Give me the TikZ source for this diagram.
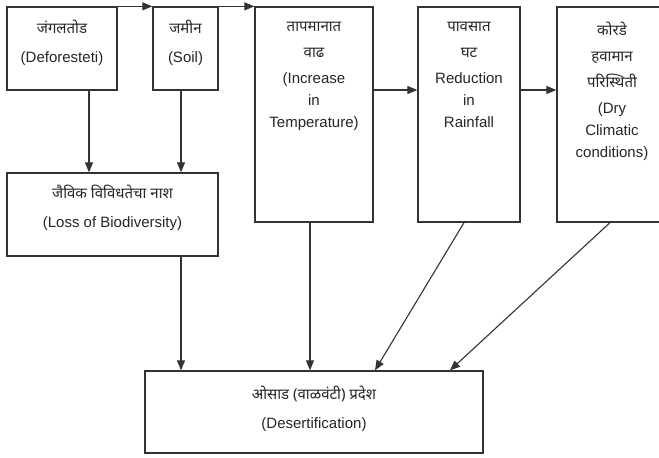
\documentclass[tikz,border=0pt]{standalone}
\usepackage{fontspec}
\setmainfont{Liberation Sans}
\newfontfamily\dev[Script=Devanagari]{Noto Sans}
\usetikzlibrary{arrows.meta}
\tikzset{
  box/.style={draw=black!80, line width=1.3pt, rectangle, inner sep=0pt},
  lbl/.style={anchor=north, align=center, inner sep=0pt, text=black!85,
    font=\fontsize{15}{22}\selectfont},
  lblw/.style={lbl, font=\fontsize{15}{29}\selectfont},
  arr/.style={draw=black!80, line width=1.1pt, -{Triangle[length=10pt,width=8pt]}}
}
\begin{document}
\begin{tikzpicture}[x=1pt,y=-1pt]
\useasboundingbox (0,0) rectangle (659,458);
\clip (0,0) rectangle (659,458);
\fill[white] (0,0) rectangle (659,458);
% boxes
\node[box, minimum width=110pt, minimum height=83pt] (b1) at (62,48.5) {};
\node[box, minimum width=65pt, minimum height=83pt] (b2) at (185.5,48.5) {};
\node[box, minimum width=118pt, minimum height=215pt] (b3) at (314,114.5) {};
\node[box, minimum width=102pt, minimum height=215pt] (b4) at (469,114.5) {};
\node[box, minimum width=110pt, minimum height=215pt] (b5) at (612,114.5) {};
\node[box, minimum width=211pt, minimum height=83pt] (loss) at (112.5,214.5) {};
\node[box, minimum width=338pt, minimum height=82pt] (des) at (314,412) {};
% texts
\node[lblw] (t1) at (62,20) {{\dev जंगलतोड}\\(Deforesteti)};
\node[lblw] (t2) at (185.5,20) {{\dev जमीन}\\(Soil)};
\node[lbl] (t3) at (314,22) {{\dev तापमानात}\\[4pt]{\dev वाढ}\\[4pt](Increase\\in\\Temperature)};
\node[lbl] (t4) at (469,22) {{\dev पावसात}\\[4pt]{\dev घट}\\[4pt]Reduction\\in\\Rainfall};
\node[lbl] (t5) at (612,22) {{\dev कोरडे}\\[4pt]{\dev हवामान}\\[4pt]{\dev परिस्थिती}\\[4pt](Dry\\Climatic\\conditions)};
\node[lblw] (tl) at (112.5,185) {{\dev जैविक विविधतेचा नाश}\\(Loss of Biodiversity)};
\node[lblw] (td) at (314,386) {{\dev ओसाड (वाळवंटी) प्रदेश}\\(Desertification)};
% connectors
\draw[arr] (b1.north east) -- (b2.north west);
\draw[arr] (b2.north east) -- (b3.north west);
\draw[arr] (b1.south -| 89,0) -- (loss.north -| 89,0);
\draw[arr] (b2.south -| 181,0) -- (loss.north -| 181,0);
\draw[arr] (b3.east |- 0,90) -- (b4.west |- 0,90);
\draw[arr] (b4.east |- 0,90) -- (b5.west |- 0,90);
\draw[arr] (loss.south -| 181,0) -- (des.north -| 181,0);
\draw[arr] (b3.south -| 310,0) -- (des.north -| 310,0);
\draw[arr] (b4.south -| 464,0) -- (des.north -| 375,0);
\draw[arr] (b5.south -| 610,0) -- (des.north -| 450,0);
\end{tikzpicture}
\end{document}
